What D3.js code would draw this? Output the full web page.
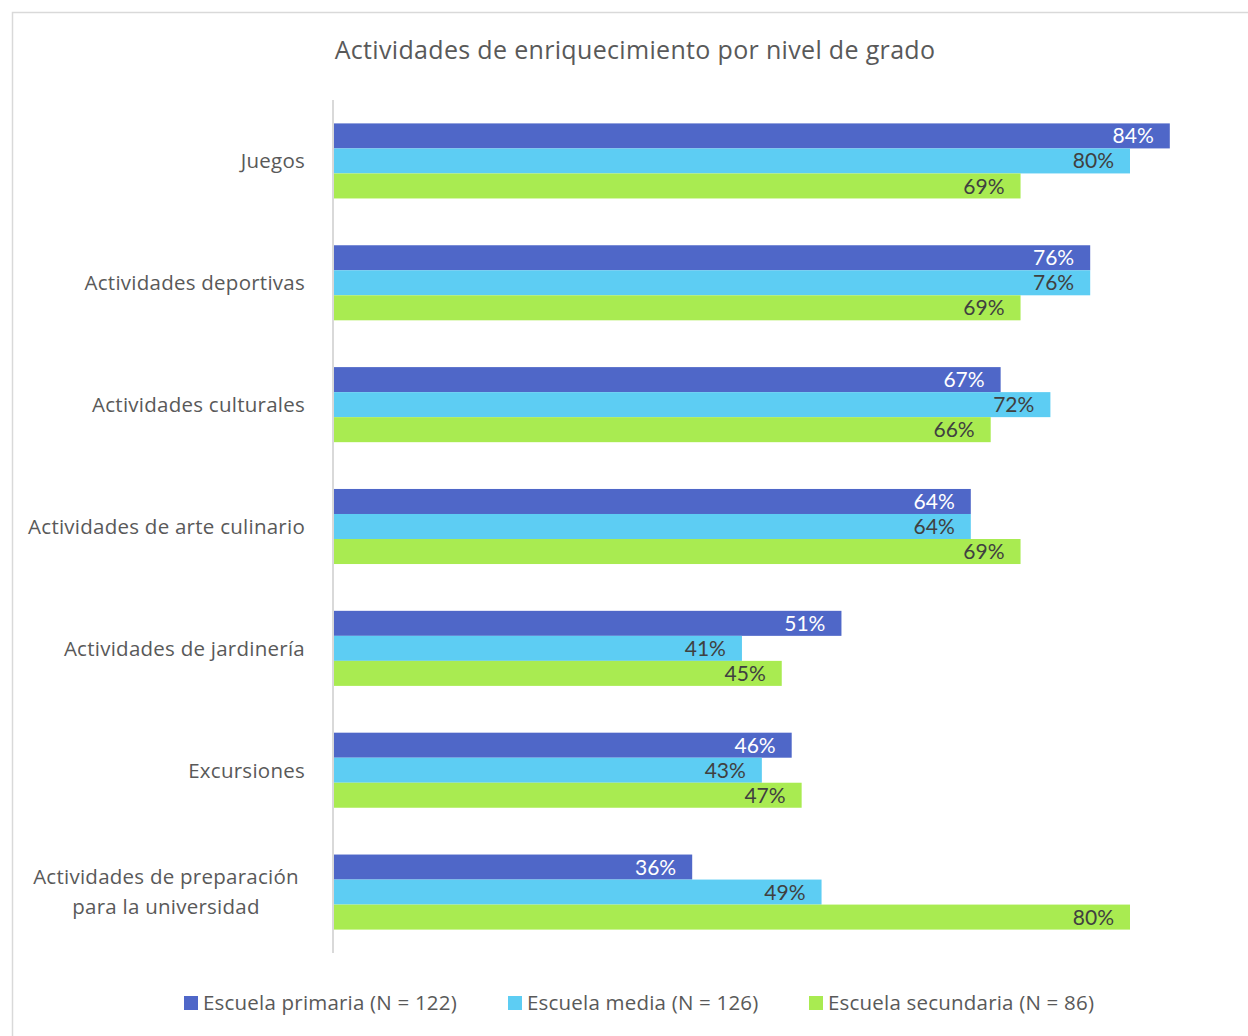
<!DOCTYPE html>
<html>
<head>
<meta charset="utf-8">
<script src="https://cdn.jsdelivr.net/npm/d3@7"></script>
<style>
  html, body { margin: 0; padding: 0; background: #fff; }
  svg { display: block; }
</style>
</head>
<body>
<svg id="chart" width="1248" height="1036"></svg>
<script>
// Enrichment activities by grade level (share of schools)
const categories = [
  "Juegos",
  "Actividades deportivas",
  "Actividades culturales",
  "Actividades de arte culinario",
  "Actividades de jardinería",
  "Excursiones",
  "Actividades de preparación\npara la universidad"
];
const seriesNames = [
  "Escuela primaria (N = 122)",
  "Escuela media (N = 126)",
  "Escuela secundaria (N = 86)"
];
const primaria   = [0.84, 0.76, 0.67, 0.64, 0.51, 0.46, 0.36];
const media      = [0.80, 0.76, 0.72, 0.64, 0.41, 0.43, 0.49];
const secundaria = [0.69, 0.69, 0.66, 0.69, 0.45, 0.47, 0.80];
const seriesValues = [primaria, media, secundaria];
const colors = ["#4F67C8", "#5DCDF3", "#A9EB51"];
const labelColors = ["#ffffff", "#404040", "#404040"];
const textColor = "#595959";

const svg = d3.select("#chart");
const font = "'Open Sans', 'Noto Sans', sans-serif";

// outer frame
svg.append("rect")
  .attr("x", 12.5).attr("y", 12.5)
  .attr("width", 1260).attr("height", 1060)
  .attr("fill", "none").attr("stroke", "#d9d9d9").attr("stroke-width", 1.5);

// title
svg.append("text")
  .attr("x", 635).attr("y", 59)
  .attr("text-anchor", "middle")
  .attr("font-family", font).attr("font-size", 25)
  .attr("letter-spacing", 0.33)
  .attr("fill", textColor)
  .text("Actividades de enriquecimiento por nivel de grado");

const plot = { left: 334, top: 100, bottom: 953 };

const x = d3.scaleLinear().domain([0, 1]).range([plot.left, plot.left + 995]);
const y = d3.scaleBand().domain(categories).range([plot.top, plot.bottom]).paddingInner(0.384).paddingOuter(0.192);
const ySub = d3.scaleBand().domain(d3.range(seriesNames.length)).range([0, y.bandwidth()]);

const rows = categories.flatMap((c, i) =>
  seriesValues.map((vals, s) => ({ cat: c, s, v: vals[i] })));

const g = svg.append("g");

g.selectAll("rect.bar").data(rows).join("rect")
  .attr("class", "bar")
  .attr("x", x(0))
  .attr("y", d => y(d.cat) + ySub(d.s))
  .attr("width", d => x(d.v) - x(0))
  .attr("height", ySub.bandwidth())
  .attr("fill", d => colors[d.s]);

g.selectAll("text.val").data(rows).join("text")
  .attr("class", "val")
  .attr("x", d => x(d.v) - 16)
  .attr("y", d => y(d.cat) + ySub(d.s) + ySub.bandwidth() / 2)
  .attr("dy", "0.36em")
  .attr("text-anchor", "end")
  .attr("font-family", "Lato, 'Open Sans', sans-serif").attr("font-size", 21)
  .attr("fill", d => labelColors[d.s])
  .text(d => d3.format(".0%")(d.v));

// category axis
const axis = svg.append("g")
  .attr("transform", `translate(${plot.left},0)`)
  .call(d3.axisLeft(y).tickSize(0).tickFormat(""));
axis.select(".domain").attr("stroke", "#d9d9d9").attr("stroke-width", 2)
  .attr("d", `M-1,${plot.top}V${plot.bottom}`);

const catLabels = svg.append("g").selectAll("text").data(categories).join("text")
  .attr("font-family", font).attr("font-size", 20.5).attr("letter-spacing", 0.25)
  .attr("fill", textColor)
  .attr("text-anchor", d => d.includes("\n") ? "middle" : "end")
  .attr("x", d => d.includes("\n") ? 166 : 305)
  .attr("y", d => y(d) + y.bandwidth() / 2);
catLabels.each(function(d) {
  const lines = d.split("\n");
  const t = d3.select(this);
  lines.forEach((ln, i) => {
    t.append("tspan")
      .attr("x", d.includes("\n") ? 166 : 305)
      .attr("dy", i === 0 ? `${0.36 - (lines.length - 1) * 0.73}em` : "1.46em")
      .text(ln);
  });
});

// legend
const legendX = [184, 508, 809];
const legend = svg.append("g").selectAll("g").data(seriesNames).join("g")
  .attr("transform", (d, i) => `translate(${legendX[i]},1003)`);
legend.append("rect")
  .attr("x", 0).attr("y", -7).attr("width", 14).attr("height", 14)
  .attr("fill", (d, i) => colors[i]);
legend.append("text")
  .attr("x", 19).attr("dy", "0.36em")
  .attr("font-family", font).attr("font-size", 20.5).attr("letter-spacing", 0.2)
  .attr("fill", textColor)
  .text(d => d);
</script>
</body>
</html>
